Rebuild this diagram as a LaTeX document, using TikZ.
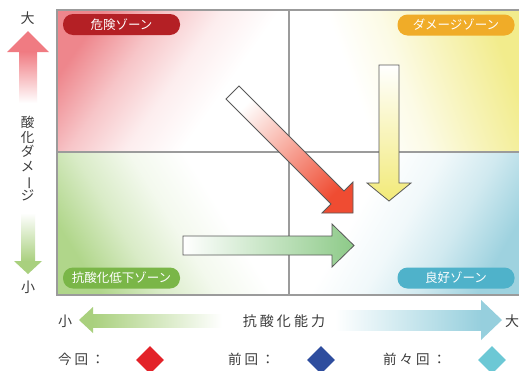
\documentclass[tikz,border=0pt]{standalone}
\usepackage{fontspec}
\setmainfont{Noto Sans CJK JP}
\newfontfamily\jpsp[LetterSpace=22]{Noto Sans CJK JP}
\usetikzlibrary{shapes.geometric}
\definecolor{txt}{HTML}{3C3C3C}
\definecolor{gridc}{HTML}{9B9B9B}
\definecolor{pillred}{HTML}{B42025}
\definecolor{pillorange}{HTML}{F0AC28}
\definecolor{pillgreen}{HTML}{7AB648}
\definecolor{pillblue}{HTML}{4FB2CA}
\definecolor{qred}{HTML}{EE868C}
\definecolor{qyel}{HTML}{F2EC8C}
\definecolor{qgrn}{HTML}{B0D68A}
\definecolor{qblu}{HTML}{9ED2DF}
\pgfdeclareverticalshading{shTL}{100bp}{color(0bp)=(white); color(38bp)=(white); color(50bp)=(qred!15!white); color(62bp)=(qred!48!white); color(75bp)=(qred); color(100bp)=(qred)}
\pgfdeclareverticalshading{shTR}{100bp}{color(0bp)=(white); color(38bp)=(white); color(50bp)=(qyel!22!white); color(62bp)=(qyel!60!white); color(75bp)=(qyel); color(100bp)=(qyel)}
\pgfdeclareverticalshading{shBL}{100bp}{color(0bp)=(white); color(38bp)=(white); color(50bp)=(qgrn!15!white); color(62bp)=(qgrn!48!white); color(75bp)=(qgrn); color(100bp)=(qgrn)}
\pgfdeclareverticalshading{shBR}{100bp}{color(0bp)=(white); color(38bp)=(white); color(50bp)=(qblu!15!white); color(62bp)=(qblu!48!white); color(75bp)=(qblu); color(100bp)=(qblu)}
\definecolor{arrred}{HTML}{EF4C32}
\definecolor{arrredm}{HTML}{F39080}
\definecolor{arryel}{HTML}{F2EA78}
\definecolor{arryelm}{HTML}{F4EFA0}
\definecolor{arrgrn}{HTML}{8DCA88}
\definecolor{arrgrnm}{HTML}{B4DCAE}
\definecolor{axred}{HTML}{F07B82}
\definecolor{axgrn}{HTML}{A9D07E}
\definecolor{axblu}{HTML}{96CFDD}
\definecolor{dmred}{HTML}{E32229}
\definecolor{dmblue}{HTML}{2E4D9E}
\definecolor{dmcyan}{HTML}{6CC8D5}
\tikzset{
  pill/.style={rounded corners=10pt, minimum width=117pt, minimum height=21pt, inner sep=0pt, text=white, font=\fontsize{12.5}{12.5}\selectfont},
  arrowline/.style={draw=black!65, line width=0.8pt},
  lbl/.style={text=txt, inner sep=0pt, font=\fontsize{14}{14}\selectfont},
  leg/.style={text=txt, inner sep=0pt, anchor=west, font=\fontsize{13.5}{13.5}\jpsp},
  dm/.style={diamond, minimum width=28pt, minimum height=28pt, inner sep=0pt}
}
\begin{document}
\begin{tikzpicture}[x=1pt,y=-1pt]
\useasboundingbox (0,0) rectangle (519,370);
\fill[white] (0,0) rectangle (519,370);
% quadrants
\shade[shading=shTL, shading angle=55] (57,10) rectangle (289,152);
\shade[shading=shTR, shading angle=-70] (289,10) rectangle (519,152);
\shade[shading=shBL, shading angle=122] (57,152) rectangle (289,295);
\shade[shading=shBR, shading angle=-120] (289,152) rectangle (519,295);
% grid
\draw[gridc, line width=2.6pt] (519,10) -- (57,10) -- (57,295) -- (519,295);
\draw[gridc, line width=2pt] (289,10) -- (289,295);
\draw[gridc, line width=2pt] (57,152) -- (519,152);
% inner arrows
\shadedraw[arrowline, top color=white, middle color=arrredm, bottom color=arrred, shading angle=45]
  (226,99) -- (331,204) -- (322,213) -- (353,213) -- (353,182) -- (344,191) -- (239,86) -- cycle;
\shadedraw[arrowline, top color=white, middle color=arryelm, bottom color=arryel]
  (379,65) -- (379,183) -- (367,183) -- (389,201) -- (411,183) -- (399,183) -- (399,65) -- cycle;
\shadedraw[arrowline, left color=white, middle color=arrgrnm, right color=arrgrn]
  (183,236) -- (332,236) -- (332,224) -- (354,245.5) -- (332,267) -- (332,255) -- (183,255) -- cycle;
% pills
\node[pill, fill=pillred] (pdanger) at (121.5,24.5) {危険ゾーン};
\node[pill, fill=pillorange] (pdamage) at (456,25) {ダメージゾーン};
\node[pill, fill=pillgreen] (plow) at (121.5,278) {抗酸化低下ゾーン};
\node[pill, fill=pillblue] (pgood) at (456,278) {良好ゾーン};
% left axis
\node[lbl] (ybig) at (27.5,18) {大};
\fill[axred] (7,52) -- (28,31) -- (49,52) -- cycle;
\shade[top color=axred, bottom color=white] (19,51.5) rectangle (37,103);
\node[lbl, align=center, font=\fontsize{13.5}{14.6}\selectfont] (ytitle) at (27.5,158.5)
  {酸\\化\\ダ\\メ\\\rotatebox[origin=c]{-90}{ー}\\ジ};
\shade[top color=white, bottom color=axgrn] (21,213) rectangle (35,261.5);
\fill[axgrn] (14,261) -- (28,274) -- (42,261) -- cycle;
\node[lbl] (ysmall) at (28,287) {小};
% bottom axis
\node[lbl] (xsmall) at (65,321) {小};
\fill[axgrn] (79,320) -- (93,307) -- (93,333) -- cycle;
\shade[left color=axgrn, right color=white] (92.5,314) rectangle (222,327);
\node[lbl, font=\fontsize{14}{14}\jpsp] (xtitle) at (284,321) {抗酸化能力};
\shade[left color=white, right color=axblu] (335,310) rectangle (481.5,330);
\fill[axblu] (481,300) -- (502,320) -- (481,340) -- cycle;
\node[lbl] (xbig) at (512,321) {大};
% legend
\node[leg] (lnow) at (58,359) {今回：};
\node[dm, fill=dmred] (dnow) at (150,360) {};
\node[leg] (lprev) at (228,359) {前回：};
\node[dm, fill=dmblue] (dprev) at (321,360) {};
\node[leg] (lprev2) at (383,359) {前々回：};
\node[dm, fill=dmcyan] (dprev2) at (492,360) {};
\end{tikzpicture}
\end{document}
